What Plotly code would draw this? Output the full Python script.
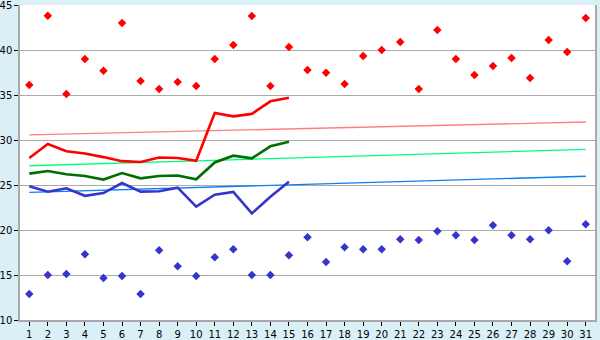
import plotly.graph_objects as go

days = list(range(1, 32))
max_pts = [36.1, 43.8, 35.1, 39.0, 37.7, 43.0, 36.55, 35.67, 36.44, 36.0,
           39.0, 40.56, 43.78, 36.0, 40.33, 37.78, 37.48, 36.22, 39.33, 40.0,
           40.89, 35.67, 42.22, 39.0, 37.22, 38.22, 39.11, 36.89, 41.11, 39.78, 43.56]
min_pts = [12.89, 15.0, 15.11, 17.3, 14.67, 14.89, 12.89, 17.74, 15.97, 14.89,
           16.97, 17.86, 15.0, 15.0, 17.2, 19.19, 16.44, 18.08, 17.86, 17.86,
           18.97, 18.89, 19.86, 19.41, 18.89, 20.52, 19.41, 18.97, 19.97, 16.52, 20.63]
line_days = list(range(1, 16))
max_line = [28.0, 29.56, 28.75, 28.5, 28.1, 27.65, 27.55, 28.05, 28.0, 27.7,
            33.0, 32.63, 32.9, 34.3, 34.7]
mean_line = [26.26, 26.56, 26.2, 26.0, 25.6, 26.33, 25.74, 26.0, 26.05, 25.63,
             27.5, 28.26, 27.96, 29.3, 29.8]
min_line = [24.85, 24.26, 24.63, 23.8, 24.1, 25.22, 24.26, 24.3, 24.7, 22.6,
            23.92, 24.23, 21.85, 23.7, 25.37]
trend_x = [1, 31]
trend_max = [30.56, 32.0]
trend_mean = [27.14, 28.96]
trend_min = [24.19, 25.97]

fig = go.Figure()
fig.add_trace(go.Scatter(x=trend_x, y=trend_max, mode="lines",
                         line=dict(color="#FF8080", width=1.3)))
fig.add_trace(go.Scatter(x=trend_x, y=trend_mean, mode="lines",
                         line=dict(color="#00FF80", width=1.3)))
fig.add_trace(go.Scatter(x=trend_x, y=trend_min, mode="lines",
                         line=dict(color="#0A7FF0", width=1.3)))
fig.add_trace(go.Scatter(x=line_days, y=max_line, mode="lines",
                         line=dict(color="#FF0000", width=2.6)))
fig.add_trace(go.Scatter(x=line_days, y=mean_line, mode="lines",
                         line=dict(color="#006E00", width=2.6)))
fig.add_trace(go.Scatter(x=line_days, y=min_line, mode="lines",
                         line=dict(color="#3535CC", width=2.6)))
fig.add_trace(go.Scatter(x=days, y=max_pts, mode="markers",
                         marker=dict(symbol="diamond", size=6.5, color="#FF0000")))
fig.add_trace(go.Scatter(x=days, y=min_pts, mode="markers",
                         marker=dict(symbol="diamond", size=6.5, color="#3535CC")))

fig.update_layout(
    width=600, height=340,
    margin=dict(l=20, r=5, t=5, b=20, autoexpand=False),
    paper_bgcolor="#DAF0F6",
    plot_bgcolor="#FFFFFF",
    showlegend=False,
    font=dict(family="DejaVu Sans", size=10, color="#000000"),
)
fig.update_xaxes(
    range=[0.5, 31.5], tickmode="array", tickvals=days, ticktext=[str(d) for d in days],
    showgrid=False, zeroline=False, showline=True, linecolor="#AAAAAA", linewidth=1.5,
    ticks="outside", ticklen=4, tickcolor="#000000", tickfont=dict(size=10),
    ticklabeloverflow="allow", automargin=False,
)
fig.update_yaxes(
    range=[10, 45], tickmode="array", tickvals=[10, 15, 20, 25, 30, 35, 40, 45],
    showgrid=True, gridcolor="#AAAAAA", gridwidth=1.3, zeroline=False,
    showline=True, mirror=True, linecolor="#AAAAAA", linewidth=1.5,
    ticks="outside", ticklen=4, tickcolor="#000000", tickfont=dict(size=10),
    ticklabeloverflow="allow", automargin=False,
)
fig.write_html("out.html")
